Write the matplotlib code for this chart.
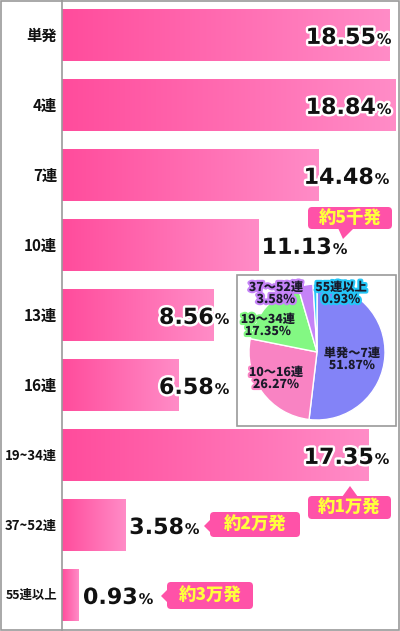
import matplotlib
matplotlib.use("Agg")
import matplotlib.pyplot as plt
import matplotlib.patheffects as pe
import numpy as np
from matplotlib.colors import LinearSegmentedColormap
from matplotlib.patches import FancyBboxPatch, Polygon, Rectangle

# --- data -------------------------------------------------------------
categories = ["単発", "4連", "7連", "10連", "13連", "16連", "19~34連", "37~52連", "55連以上"]
shares = [18.55, 18.84, 14.48, 11.13, 8.56, 6.58, 17.35, 3.58, 0.93]

pie_labels = ["単発〜7連", "10〜16連", "19〜34連", "37〜52連", "55連以上"]
pie_values = [51.87, 26.27, 17.35, 3.58, 0.93]

callout_texts = ["約5千発", "約1万発", "約2万発", "約3万発"]

# --- layout (pixels / data units) ------------------------------------
W, H, DPI = 400, 631, 100
label_right = [18.67, 18.67, 18.55, 16.18, 9.50, 9.50, 18.55, 7.81, 5.20]
pie_colors = ["#8383F7", "#F983C3", "#83F883", "#C583F7", "#25C6F7"]
pie_label_px = [(352, 359), (276, 378), (268, 325), (276, 293), (341, 293)]
# box (x0, y0, x1, y1) and pointer triangle, in pixels
callout_geom = [
    ((308, 207, 392, 229), [(338, 228), (354, 228), (343, 239)]),
    ((308, 496, 391, 519), [(342, 497), (358, 497), (350, 486)]),
    ((210, 512, 300, 537), [(211, 519), (211, 533), (204, 526)]),
    ((167, 582, 253, 609), [(168, 589), (168, 603), (161, 596)]),
]
JP = ["Noto Sans CJK JP", "DejaVu Sans"]
CALLOUT_BG = "#FF52A8"
CALLOUT_FG = "#FFFF3C"
MAX_LABEL_PX = 52

bar_cmap = LinearSegmentedColormap.from_list("pinkfade", ["#FF4C9C", "#FF8CC7"])

fig = plt.figure(figsize=(W / DPI, H / DPI), dpi=DPI)
fig.patch.set_facecolor("white")
renderer = fig.canvas.get_renderer()

# main bar axes: 17.68 px per percent, 70 px per row
ax = fig.add_axes([61.5 / W, 0, (W - 61.5) / W, 1])
ax.set_facecolor("none")
for s in ["top", "right", "bottom"]:
    ax.spines[s].set_visible(False)
ax.spines["left"].set_color("#9A9A9A")
ax.spines["left"].set_linewidth(1.2)
ax.set_xticks([])

bar_h = 0.73
grad = np.linspace(0, 1, 256).reshape(1, -1)
for i, v in enumerate(shares):
    ax.imshow(grad, cmap=bar_cmap, aspect="auto",
              extent=(0, v, i + bar_h / 2, i - bar_h / 2), zorder=2)
ax.set_xlim(0, (W - 61.5) / 17.68)
ax.set_ylim(8.507, -0.507)

ax.set_yticks(range(len(categories)))
ax.set_yticklabels([])
ax.tick_params(axis="y", length=0)
for i, name in enumerate(categories):
    t = ax.annotate(name, xy=(0, i), xytext=(-4.5 * 72 / DPI, 0),
                    textcoords="offset points", ha="right", va="center",
                    family=JP, fontsize=11, fontweight="bold", color="#111111")
    w = t.get_window_extent(renderer=renderer).width
    if w > MAX_LABEL_PX:
        t.set_fontsize(11 * MAX_LABEL_PX / w)

# value labels: big number + small "%"
stroke = [pe.withStroke(linewidth=3.5, foreground="white")]
for i, v in enumerate(shares):
    base = i + 0.12
    t_pct = ax.text(label_right[i], base, "%", ha="right", va="baseline",
                    fontsize=10.5, fontweight="bold", color="#111111",
                    family="DejaVu Sans", path_effects=stroke, zorder=5)
    w_px = t_pct.get_window_extent(renderer=renderer).width
    ax.annotate(f"{v:.2f}", xy=(label_right[i], base),
                xytext=(-(w_px + 1) * 72 / DPI, 0), textcoords="offset points",
                ha="right", va="baseline", fontsize=16, fontweight="bold",
                color="#111111", family="DejaVu Sans",
                path_effects=stroke, zorder=5)

# overlay in pixel coordinates for frame, inset box and callouts
ov = fig.add_axes([0, 0, 1, 1], zorder=2)
ov.set_xlim(0, W)
ov.set_ylim(H, 0)
ov.axis("off")
ov.patch.set_alpha(0)
ov.add_patch(Rectangle((0.5, 0.5), W - 1.5, H - 1.5, fill=False,
                       edgecolor="#9A9A9A", linewidth=1.2))
ov.add_patch(Rectangle((237, 275), 159, 151, facecolor="white",
                       edgecolor="#9A9A9A", linewidth=1.2))

for txt, (box, tri) in zip(callout_texts, callout_geom):
    x0, y0, x1, y1 = box
    ov.add_patch(FancyBboxPatch((x0, y0), x1 - x0, y1 - y0,
                                boxstyle="round,pad=0,rounding_size=4",
                                facecolor=CALLOUT_BG, edgecolor="none"))
    ov.add_patch(Polygon(tri, closed=True, facecolor=CALLOUT_BG, edgecolor="none"))
    ov.text((x0 + x1) / 2, (y0 + y1) / 2 + 0.5, txt, ha="center", va="center",
            family=JP, fontsize=12.5, fontweight="heavy", color=CALLOUT_FG)

# pie inset
cx, cy, r = 317, 352, 68
pax = fig.add_axes([(cx - r) / W, (H - cy - r) / H, 2 * r / W, 2 * r / H], zorder=3)
pax.pie(pie_values, colors=pie_colors, startangle=90, counterclock=False,
        radius=1, wedgeprops=dict(edgecolor="white", linewidth=1))
pax.set_xlim(-1, 1)
pax.set_ylim(-1, 1)
pax.set_aspect("equal")
pax.axis("off")

lab = fig.add_axes([0, 0, 1, 1], zorder=4)
lab.set_xlim(0, W)
lab.set_ylim(H, 0)
lab.axis("off")
lab.patch.set_alpha(0)
for name, val, col, (px, py) in zip(pie_labels, pie_values, pie_colors, pie_label_px):
    lab.text(px, py, f"{name}\n{val:.2f}%", ha="center", va="center",
             family=JP, fontsize=8.8, fontweight="heavy", color="#1A1A2A",
             linespacing=1.0,
             path_effects=[pe.withStroke(linewidth=3, foreground=col)])

fig.savefig("out.png", dpi=DPI, facecolor="white")
